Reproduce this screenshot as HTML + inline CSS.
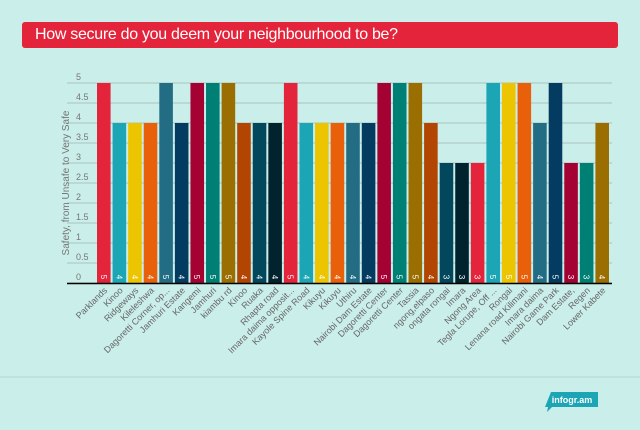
<!DOCTYPE html>
<html><head><meta charset="utf-8"><style>
body{margin:0;width:640px;height:430px;background:#caeeea;font-family:"Liberation Sans",sans-serif;overflow:hidden;position:relative}
#title{position:absolute;left:22px;top:22px;width:596px;height:26px;background:#e3243b;border-radius:3px;color:#fff;font-size:16px;letter-spacing:-0.3px;line-height:26px;padding-left:13px;box-sizing:border-box}
svg{position:absolute;left:0;top:0}
</style></head><body>
<div id="title">How secure do you deem your neighbourhood to be?</div>
<svg id="chart" width="640" height="430"></svg>
<script>
const categories=["Parklands","Kinoo","Ridgeways","Kileleshwa","Dagoretti Corner, op...","Jamhuri Estate","Kangemi","Jamhuri","kiambu rd","Kinoo","Ruaka","Rhapta road","Imara daima opposit...","Kayole Spine Road","Kikuyu","Kikuyu","Uthiru","Nairobi Dam Estate","Dagoretti Center","Dagoretti Center","Tassia","ngong,elpaso","ongata rongai","Imara","Ngong Area","Tegla Lorupe, Off ...","Rongai","Lenana road Kilimani","Imara daima","Nairobi Game Park","Dam Estate,","Regen","Lower Kabete"];
const values=[5,4,4,4,5,4,5,5,5,4,4,4,5,4,4,4,4,4,5,5,5,4,3,3,3,5,5,5,4,5,3,3,4];
const ticks=[0,0.5,1,1.5,2,2.5,3,3.5,4,4.5,5];
const colors=["#e3243b","#1ba5b5","#edc400","#e8610a","#236d84","#043b60","#a50234","#008075","#9a6e00","#b24501","#03475c","#01232e"];
const NS="http://www.w3.org/2000/svg",svg=document.getElementById('chart');
const x0=96,x1=610,yTop=83,yBase=283,vmax=5;
const step=(x1-x0)/categories.length,bw=step-2;
const y=v=>yBase-(v/vmax)*(yBase-yTop);
const xs=i=>x0+i*step;
function mk(t,a){const e=document.createElementNS(NS,t);for(const k in a)e.setAttribute(k,a[k]);svg.appendChild(e);return e;}
ticks.forEach(t=>{
 const g=mk('line',{x1:67,x2:612,y1:y(t),y2:y(t),stroke:'#a9c2be','stroke-width':1});
 
 
 const l=mk('text',{x:76,y:y(t)-3,'font-size':9,fill:'#777'});l.textContent=t;
 
 
});
const at=mk('text',{transform:'translate(69,183) rotate(-90)','text-anchor':'middle','font-size':10,fill:'#777'});at.textContent='Safety, from Unsafe to Very Safe';


values.forEach((v,i)=>{
 const r=mk('rect',{x:xs(i)+1,y:y(v),width:bw,height:yBase-y(v),fill:colors[i%colors.length]});
 
 
 const cx=xs(i)+step/2;
 const vl=mk('text',{transform:`translate(${cx-3},${yBase-6}) rotate(90)`,'font-size':8,fill:'#fff','text-anchor':'middle'});vl.textContent=v;
 
 
 const cl=mk('text',{transform:`translate(${cx+4},${yBase+8}) rotate(-45)`,'font-size':9,fill:'#666','text-anchor':'end'});cl.textContent=categories[i];
 
 
});
const base=mk('line',{x1:67,x2:612,y1:yBase+0.5,y2:yBase+0.5,stroke:'#000','stroke-width':1.5});


const sep=mk('line',{x1:0,x2:640,y1:377,y2:377,stroke:'#b3d6d2','stroke-width':1});


const tag=mk('polygon',{points:'551,392 598,392 598,407 552,407 547,412 548,407 545,407',fill:'#1ba5b5'});


const tt=mk('text',{x:572,y:403,'font-size':9,'font-weight':'bold',fill:'#fff','text-anchor':'middle'});tt.textContent='infogr.am';


</script>
</body></html>
